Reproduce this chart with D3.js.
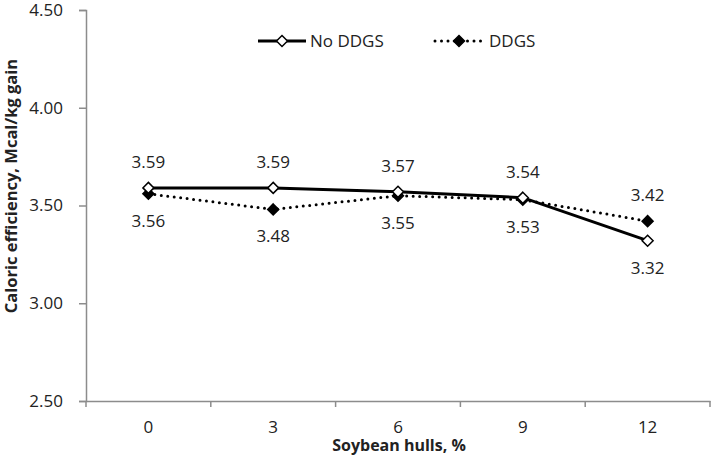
<!DOCTYPE html>
<html><head><meta charset="utf-8">
<script src="https://cdn.jsdelivr.net/npm/d3@7"></script>
<style>body{margin:0;background:#fff}svg{display:block}text{font-family:"Open Sans",Lato,sans-serif;fill:#222}</style>
</head><body><svg id="c" width="714" height="461"></svg>
<script>
const categories = ["0","3","6","9","12"];
const noDDGS = [3.59, 3.59, 3.57, 3.54, 3.32];
const ddgs = [3.56, 3.48, 3.55, 3.53, 3.42];
const yTicks = [2.5, 3.0, 3.5, 4.0, 4.5];
const series = [
  {name:"No DDGS", values:noDDGS, fill:"#fff", dash:null, labelAbove:[true,true,true,true,false]},
  {name:"DDGS", values:ddgs, fill:"#000", dash:"0 6.5", labelAbove:[false,false,false,false,true]}
];
const FONT="'Open Sans', Lato, sans-serif";
const svg = d3.select("#c");
const L=86, R=710, T=10, B=401;
const x = d3.scaleBand().domain(categories).range([L,R]);
const y = d3.scaleLinear().domain([2.5,4.5]).range([B,T]);
const axisCol="#8c8c8c";
// y axis
const ya = svg.append("g").attr("transform",`translate(${L},0)`)
  .call(d3.axisLeft(y).tickValues(yTicks).tickFormat(d3.format(".2f")).tickSize(7).tickPadding(16));
ya.select(".domain").attr("stroke",axisCol).attr("stroke-width",1.5);
ya.selectAll(".tick line").attr("stroke",axisCol).attr("stroke-width",1.5);
ya.selectAll("text").attr("font-size",17).attr("fill","#222").style("font-family",FONT);
// x axis
const xa = svg.append("g").attr("transform",`translate(0,${B})`)
  .call(d3.axisBottom(x).tickSize(0).tickPadding(20));
xa.select(".domain").attr("stroke",axisCol).attr("stroke-width",1.5);
xa.selectAll("text").attr("font-size",17).attr("fill","#222").style("font-family",FONT);
const bounds = categories.map(c=>x(c)).concat([R]);
svg.append("g").selectAll("line").data(bounds).join("line")
  .attr("x1",d=>d).attr("x2",d=>d).attr("y1",B).attr("y2",B+6)
  .attr("stroke",axisCol).attr("stroke-width",1.5);
// axis titles
svg.append("text").attr("x",(L+R)/2+1).attr("y",451).attr("text-anchor","middle")
  .attr("font-size",16).attr("font-weight","bold").text("Soybean hulls, %");
svg.append("text").attr("transform",`translate(17,186) rotate(-90)`).attr("text-anchor","middle")
  .attr("font-size",16.5).attr("font-weight","bold").text("Caloric efficiency, Mcal/kg gain");
const cx = c=>x(c)+x.bandwidth()/2;
const line = d3.line().x((d,i)=>cx(categories[i])).y(d=>y(d));
const diamond = "M0,-5.5L5.5,0L0,5.5L-5.5,0Z";
[series[1],series[0]].forEach(s=>{
  svg.append("path").datum(s.values).attr("d",line).attr("fill","none")
    .attr("stroke","#000").attr("stroke-width",3).attr("stroke-linecap",s.dash?"round":"butt")
    .attr("stroke-dasharray",s.dash);
});
[series[1],series[0]].forEach(s=>{
  svg.append("g").selectAll("path").data(s.values).join("path")
    .attr("d",diamond).attr("transform",(d,i)=>`translate(${cx(categories[i])},${y(d)})`)
    .attr("fill",s.fill).attr("stroke","#000").attr("stroke-width",1.5);
  svg.append("g").selectAll("text").data(s.values).join("text")
    .attr("x",(d,i)=>cx(categories[i]))
    .attr("y",(d,i)=>s.labelAbove[i]? y(d)-20 : y(d)+33)
    .attr("text-anchor","middle").attr("font-size",17).text(d=>d.toFixed(2));
});
// legend
const lg = svg.append("g");
const items=[{s:series[0],x0:258,tx:310},{s:series[1],x0:435,tx:489}];
items.forEach(it=>{
  lg.append("line").attr("x1",it.x0).attr("x2",it.x0+48).attr("y1",41).attr("y2",41)
    .attr("stroke","#000").attr("stroke-width",3).attr("stroke-linecap",it.s.dash?"round":"butt")
    .attr("stroke-dasharray",it.s.dash);
  lg.append("path").attr("d",diamond).attr("transform",`translate(${it.x0+24},41)`)
    .attr("fill",it.s.fill).attr("stroke","#000").attr("stroke-width",1.5);
  lg.append("text").attr("x",it.tx).attr("y",47).attr("font-size",17).text(it.s.name);
});
</script></body></html>
